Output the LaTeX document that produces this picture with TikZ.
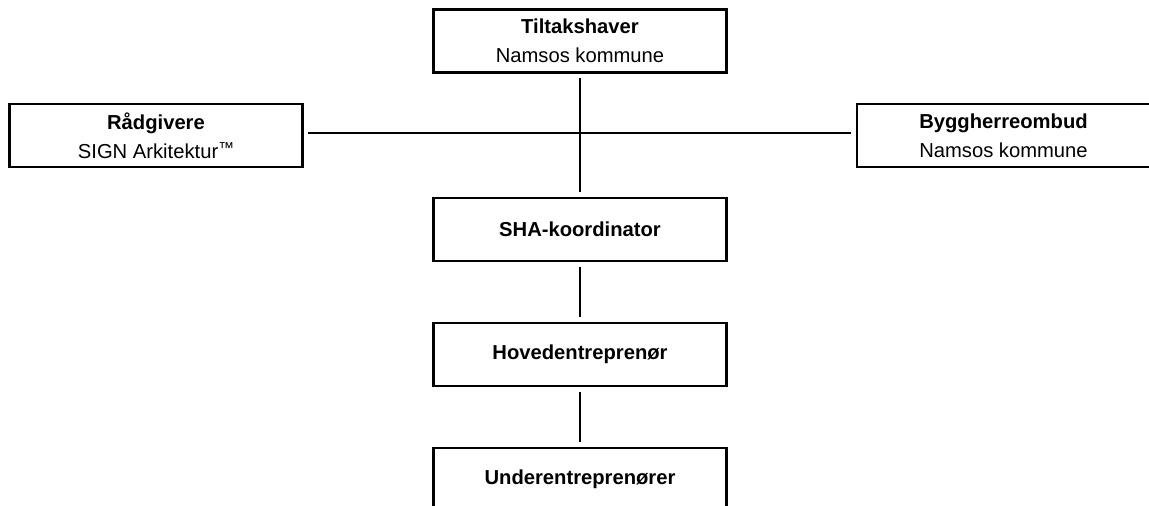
\documentclass[tikz,border=0pt]{standalone}
\usepackage{fontspec}
\setmainfont{Liberation Sans}

\begin{document}
\begin{tikzpicture}
	[x=0.02cm, y=-0.02cm, line width=1.4pt,
	every node/.style={draw,rectangle,line width=1.4pt,minimum width=5.86cm,minimum height=1.26cm,
		align=center,inner sep=2pt,font=\fontsize{11.5}{16.5}\selectfont},
	link/.style={shorten <=2.5pt,shorten >=2.5pt}]
	\useasboundingbox (0,0) rectangle (1149,506);
	\node (tilt) at (580,41) {\textbf{Tiltakshaver}\\Namsos kommune};
	\node (rad) at (156,135.5) {\textbf{Rådgivere}\\SIGN Arkitektur\raisebox{0.22em}{\fontsize{9}{9}\selectfont ™}};
	\node (bygg) at (1003.5,135.5) {\textbf{Byggherreombud}\\Namsos kommune};
	\node (sha) at (580,229.5) {\textbf{SHA-koordinator}};
	\node (hoved) at (580,354.5) {\textbf{Hovedentreprenør}};
	\node (under) at (580,479.5) {\textbf{Underentreprenører}};
	\draw [link] (tilt) -- (sha);
	\draw [link] ([yshift=0.05cm]rad.east) -- ([yshift=0.05cm]bygg.west);
	\draw [link] (sha) -- (hoved);
	\draw [link] (hoved) -- (under);
\end{tikzpicture}
\end{document}
